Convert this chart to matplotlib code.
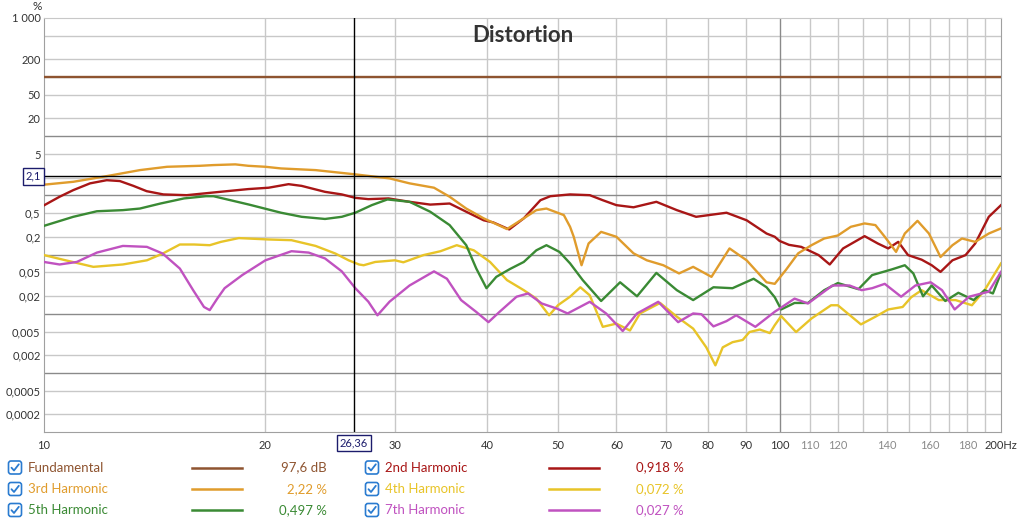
import matplotlib
matplotlib.use("Agg")
import matplotlib.pyplot as plt
from matplotlib.patches import FancyBboxPatch
from matplotlib.ticker import NullLocator, NullFormatter
from matplotlib.transforms import blended_transform_factory

plt.rcParams['font.family'] = ['Lato', 'DejaVu Sans']

# ---------------- data (percent vs Hz) ----------------
fund_freq = [10, 200]
fund_pct = [100, 100]

h2_freq = [10, 10.5, 10.96, 11.55, 12.17, 12.68, 13.23, 13.79, 14.53, 15.63, 17.35, 18.95, 20.2, 21.5,
           22.4, 24.1, 25.4, 26.5, 27.6, 29.4, 31.4, 33.5, 35.6, 37.5, 39.6, 40.8, 42.9, 44.9, 47.3,
           48.8, 51.9, 55.2, 57.5, 60, 63.3, 68, 72.5, 77, 84.7, 90.2, 96, 98.5, 100, 103, 107, 113,
           117, 122, 130.5, 136, 140.5, 145, 149.5, 156, 161, 165.5, 171.8, 179, 184.5, 192.5, 200]
h2_pct = [0.68, 0.95, 1.23, 1.6, 1.81, 1.75, 1.45, 1.18, 1.04, 1.01, 1.15, 1.28, 1.35, 1.55,
          1.45, 1.15, 1.04, 0.91, 0.866, 0.89, 0.78, 0.70, 0.73, 0.53, 0.38, 0.35, 0.266, 0.41, 0.83,
          0.97, 1.04, 1.01, 0.83, 0.685, 0.63, 0.78, 0.564, 0.435, 0.51, 0.38, 0.227, 0.2, 0.17, 0.146, 0.135, 0.098,
          0.068, 0.127, 0.205, 0.154, 0.127, 0.164, 0.098, 0.082, 0.066, 0.051, 0.08, 0.098, 0.154, 0.435, 0.685]

h3_freq = [10, 10.96, 12.17, 13.5, 14.7, 16.3, 17.0, 18.2, 18.95, 20, 21.0, 23.4, 26.5, 29.5, 31.4,
           33.9, 35.6, 37.5, 39.6, 42.6, 44.9, 46.7, 48.2, 50.9, 51.9, 52.5, 53.8, 55, 57.2, 60,
           63.3, 66, 69.5, 73, 76.3, 80.8, 85.5, 90.2, 96, 98.5, 102, 106, 110.5, 115, 120, 125,
           130.5, 135, 139, 144, 148, 154, 159.6, 165.5, 171.8, 177, 184.5, 192.5, 200]
h3_pct = [1.52, 1.70, 2.12, 2.68, 3.05, 3.17, 3.26, 3.35, 3.17, 3.05, 2.86, 2.68, 2.27, 1.94, 1.6,
          1.35, 0.95, 0.6, 0.41, 0.27, 0.41, 0.564, 0.60, 0.465, 0.295, 0.20, 0.066, 0.154, 0.242, 0.20,
          0.105, 0.08, 0.066, 0.048, 0.062, 0.042, 0.127, 0.08, 0.034, 0.032, 0.055, 0.105, 0.144, 0.187, 0.21, 0.295,
          0.336, 0.315, 0.2, 0.111, 0.227, 0.372, 0.227, 0.091, 0.144, 0.187, 0.164, 0.227, 0.277]

h4_freq = [10, 10.7, 11.67, 12.8, 13.8, 14.5, 15.3, 16, 16.8, 17.4, 18.4, 20.2, 21.7, 23.4, 24.9,
           25.95, 26.8, 27.2, 28.2, 30, 30.8, 32.8, 34.6, 36.4, 38.4, 40.4, 42.6, 44.9, 46.7, 48.6,
           50, 51.9, 53.6, 55.2, 57.5, 60, 62.6, 64.6, 68.8, 72.5, 76.3, 79.5, 81.8, 83.7, 86.3,
           89.1, 91, 94, 97, 98.5, 100.5, 105.3, 110.5, 117.5, 120, 129, 135, 140.5, 147, 151, 156,
           164.6, 173.5, 182.6, 190, 200]
h4_pct = [0.098, 0.08, 0.062, 0.068, 0.08, 0.104, 0.148, 0.148, 0.144, 0.164, 0.19, 0.18, 0.175, 0.14, 0.104,
          0.08, 0.068, 0.066, 0.075, 0.08, 0.074, 0.098, 0.114, 0.144, 0.118, 0.075, 0.037, 0.025, 0.018, 0.0094,
          0.014, 0.0194, 0.028, 0.0205, 0.006, 0.0068, 0.0052, 0.0101, 0.0152, 0.0089, 0.0056, 0.0027, 0.00134, 0.0027, 0.0033,
          0.0036, 0.0049, 0.0054, 0.0047, 0.0064, 0.0091, 0.0049, 0.0083, 0.0139, 0.0139, 0.0066, 0.0089, 0.0118, 0.013, 0.019, 0.025,
          0.017, 0.017, 0.0139, 0.025, 0.071]

h5_freq = [10, 10.96, 11.8, 12.8, 13.5, 14.4, 15.5, 16.6, 17.0, 19, 21.0, 22.4, 24.1, 25.4, 26.5,
           27.9, 29.3, 31.4, 33.5, 35.6, 37.5, 38.7, 39.95, 41.2, 43, 44.9, 46.7, 48.2, 50.2, 51.9,
           54, 57.2, 60.7, 64, 68, 72.5, 76.3, 81.3, 86.3, 92.2, 96, 98.5, 100.5, 104.8, 109.3, 115,
           120, 128, 133.6, 142, 148, 152, 156.7, 161, 168, 175, 183.6, 190, 195, 200]
h5_pct = [0.306, 0.435, 0.54, 0.564, 0.6, 0.73, 0.89, 0.97, 0.97, 0.70, 0.51, 0.435, 0.40, 0.435, 0.51,
          0.685, 0.855, 0.78, 0.53, 0.315, 0.144, 0.058, 0.027, 0.042, 0.057, 0.075, 0.118, 0.144, 0.111, 0.071,
          0.037, 0.0164, 0.034, 0.0197, 0.049, 0.025, 0.017, 0.028, 0.027, 0.039, 0.028, 0.019, 0.0118, 0.0152, 0.0152, 0.025,
          0.033, 0.026, 0.045, 0.056, 0.066, 0.048, 0.0197, 0.03, 0.0164, 0.0226, 0.017, 0.025, 0.022, 0.049]

h7_freq = [10, 10.5, 11.08, 11.8, 12.8, 13.8, 14.5, 15.3, 15.95, 16.5, 16.8, 17.2, 17.6, 18.6, 20,
           21.7, 22.9, 24.1, 25.4, 26.5, 27.6, 28.4, 29.5, 31.4, 33.9, 35.3, 36.9, 38.7, 40.2, 41.6,
           43.9, 45.5, 47.5, 49.8, 51.5, 55.2, 58.1, 61.2, 64, 68.4, 72.8, 76.3, 78.3, 81.3, 84.7,
           87.3, 92.7, 98.5, 100, 104.8, 109.3, 118, 124.5, 129.3, 133.6, 139, 146.3, 153, 160.5,
           166.3, 173, 181, 192.5, 200]
h7_pct = [0.075, 0.068, 0.075, 0.108, 0.14, 0.135, 0.104, 0.058, 0.025, 0.013, 0.0115, 0.018, 0.027, 0.045, 0.08,
          0.114, 0.108, 0.086, 0.052, 0.027, 0.016, 0.0094, 0.016, 0.03, 0.052, 0.039, 0.017, 0.0107, 0.0072, 0.0107,
          0.0194, 0.022, 0.0149, 0.0122, 0.0101, 0.0159, 0.0101, 0.0051, 0.0101, 0.0159, 0.0072, 0.0101, 0.0098, 0.0061, 0.0075,
          0.0094, 0.006, 0.0108, 0.0122, 0.018, 0.0149, 0.03, 0.03, 0.025, 0.027, 0.032, 0.0194, 0.03, 0.034,
          0.025, 0.0118, 0.0194, 0.0236, 0.051]

series_names = ["Fundamental", "2nd Harmonic", "3rd Harmonic", "4th Harmonic", "5th Harmonic", "7th Harmonic"]
series_values = ["97,6 dB", "0,918 %", "2,22 %", "0,072 %", "0,497 %", "0,027 %"]
series_colors = ["#8e5430", "#a81616", "#e09c2c", "#e8c428", "#3a8a34", "#c052c0"]
series_freqs = [fund_freq, h2_freq, h3_freq, h4_freq, h5_freq, h7_freq]
series_pcts = [fund_pct, h2_pct, h3_pct, h4_pct, h5_pct, h7_pct]

x_ticks = [10, 20, 30, 40, 50, 60, 70, 80, 90, 100, 110, 120, 140, 160, 180, 200]
x_tick_labels = ["10", "20", "30", "40", "50", "60", "70", "80", "90", "100",
                 "110", "120", "140", "160", "180", "200Hz"]
x_grid = [20, 30, 40, 50, 60, 70, 80, 90, 110, 120, 130, 140, 150, 160, 170, 180, 190]
y_ticks = [1000, 200, 50, 20, 5, 0.5, 0.2, 0.05, 0.02, 0.005, 0.002, 0.0005, 0.0002]
y_tick_labels = ["1 000", "200", "50", "20", "5", "0,5", "0,2", "0,05", "0,02",
                 "0,005", "0,002", "0,0005", "0,0002"]
y_grid_light = [500, 200, 100, 50, 20, 5, 2, 0.5, 0.2, 0.05, 0.02, 0.005, 0.002, 0.0005, 0.0002]
y_grid_dark = [10, 1, 0.1, 0.01, 0.001]
cursor_freq = 26.36
cursor_pct = 2.1

# ---------------- figure ----------------
W, H = 1024, 525
fig = plt.figure(figsize=(W / 100, H / 100), dpi=100)
fig.patch.set_facecolor("white")
ax = fig.add_axes([44 / W, 1 - 432 / H, 957 / W, 414 / H])
ax.set_xscale("log")
ax.set_yscale("log")
ax.set_xlim(10, 200)
ax.set_ylim(1e-4, 1000)

for v in y_grid_light:
    ax.axhline(v, color="#c8c8c8", lw=1, zorder=0)
for v in y_grid_dark:
    ax.axhline(v, color="#8a8a8a", lw=1, zorder=0.5)
for v in x_grid:
    ax.axvline(v, color="#c8c8c8", lw=1, zorder=0)
ax.axvline(100, color="#8a8a8a", lw=1, zorder=0.5)

for f, p, c in zip(series_freqs, series_pcts, series_colors):
    ax.plot(f, p, color=c, lw=1.7, solid_joinstyle="round", zorder=3)

ax.axvline(cursor_freq, color="black", lw=1, zorder=4)
ax.axhline(cursor_pct, color="black", lw=1, zorder=4)

ax.xaxis.set_minor_locator(NullLocator())
ax.xaxis.set_minor_formatter(NullFormatter())
ax.yaxis.set_minor_locator(NullLocator())
ax.yaxis.set_minor_formatter(NullFormatter())
ax.set_xticks(x_ticks, x_tick_labels)
ax.set_yticks(y_ticks, y_tick_labels)
ax.tick_params(axis="both", length=0, labelsize=8, colors="#333333")
ax.tick_params(axis="x", pad=6)
ax.tick_params(axis="y", pad=2.5)
for lbl, t in zip(ax.get_xticklabels(), x_ticks):
    if 100 < t < 200:
        lbl.set_color("#8a8a8a")

for s in ["left", "bottom"]:
    ax.spines[s].set_color("#a0a0a0")
ax.spines["top"].set_color("#c8c8c8")
ax.spines["right"].set_color("#a0a0a0")

# cursor labels
navy = "#1c1c6c"
trb = blended_transform_factory(ax.transAxes, ax.transData)
ax.text(-0.003, cursor_pct, "2,1", transform=trb, ha="right", va="center", fontsize=8,
        color=navy, bbox=dict(boxstyle="square,pad=0.25", fc="white", ec=navy, lw=1), zorder=5, clip_on=False)
trx = blended_transform_factory(ax.transData, ax.transAxes)
ax.text(cursor_freq, -0.027, "26,36", transform=trx, ha="center", va="center", fontsize=8,
        color=navy, bbox=dict(boxstyle="square,pad=0.25", fc="white", ec=navy, lw=1), zorder=5, clip_on=False)

# ---------------- overlay in pixel coords (title, legend and '%') ----------------
ov = fig.add_axes([0, 0, 1, 1], zorder=10)
ov.set_xlim(0, W)
ov.set_ylim(H, 0)
ov.axis("off")
ov.patch.set_alpha(0)

ov.text(523, 35, "Distortion", ha="center", va="center", fontsize=16, fontweight="bold", color="#333333")
ov.text(37, 7, "%", ha="center", va="center", fontsize=8.5, color="#333333")

row_y = [467.5, 489, 510]
col_cfg = [dict(cb=15, lab=28, l0=192, l1=242, val=327), dict(cb=372, lab=385, l0=549, l1=599, val=684)]
check_blue = "#2a7bd0"
for i, (name, val, col) in enumerate(zip(series_names, series_values, series_colors)):
    r, c = divmod(i, 2)
    y = row_y[r]
    cfg = col_cfg[c]
    cx = cfg["cb"]
    box = FancyBboxPatch((cx - 6.5, y - 6.5), 13, 13, boxstyle="round,pad=0,rounding_size=2.5",
                         fc="white", ec=check_blue, lw=1.2)
    ov.add_patch(box)
    ov.plot([cx - 3.5, cx - 1, cx + 3.8], [y + 0.2, y + 3, y - 3.2], color=check_blue, lw=1.3,
            solid_capstyle="round", solid_joinstyle="round")
    ov.text(cfg["lab"], y, name, ha="left", va="center", fontsize=9.5, color=col)
    ov.plot([cfg["l0"], cfg["l1"]], [y, y], color=col, lw=1.8)
    ov.text(cfg["val"], y, val, ha="right", va="center", fontsize=9.5, color=col)

fig.savefig("out.png", dpi=100)
